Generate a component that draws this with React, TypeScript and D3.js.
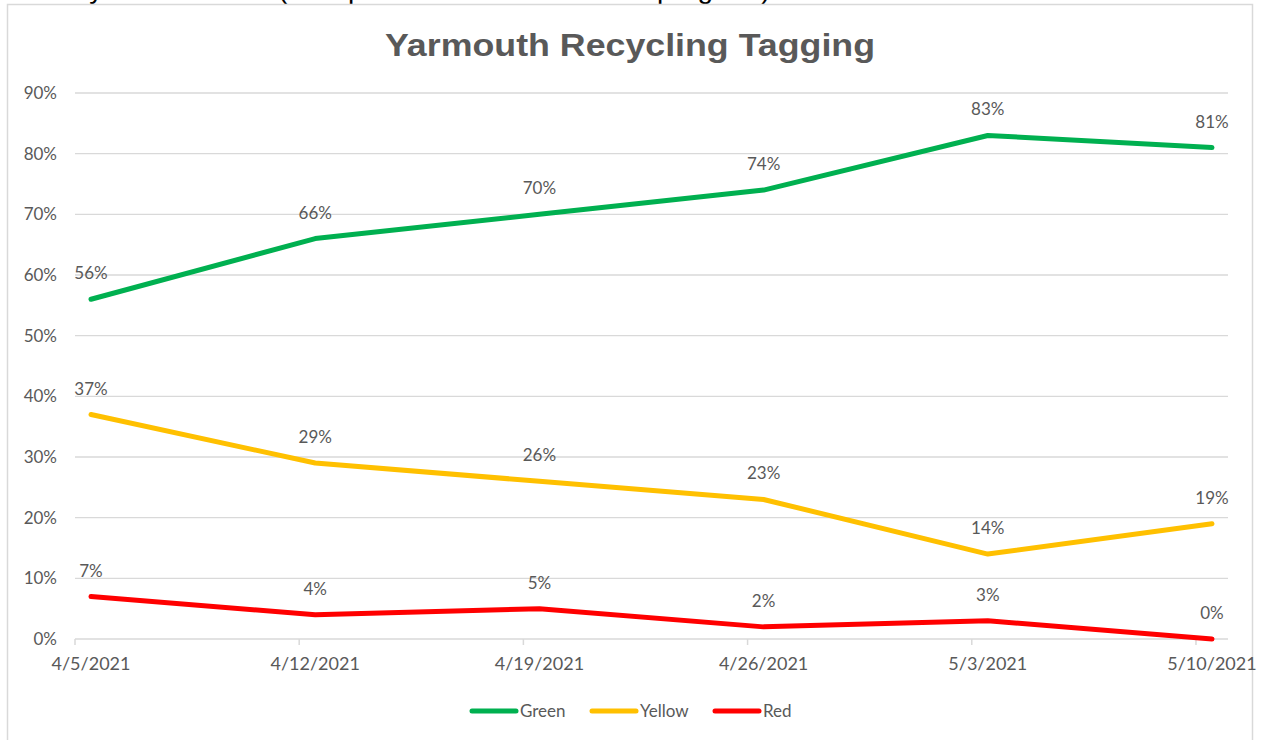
import React from "react";
import * as d3 from "d3";

const width = 1262;
const height = 740;
const margin = { top: 93, right: 34, bottom: 101, left: 75 };

// days since 4/5/2021, one point per week
const dates = ["4/5/2021", "4/12/2021", "4/19/2021", "4/26/2021", "5/3/2021", "5/10/2021"];
const dayOffsets = [0, 7, 14, 21, 28, 35];
const green = [0.56, 0.66, 0.7, 0.74, 0.83, 0.81];
const yellow = [0.37, 0.29, 0.26, 0.23, 0.14, 0.19];
const red = [0.07, 0.04, 0.05, 0.02, 0.03, 0.0];
const yTicks = [0, 0.1, 0.2, 0.3, 0.4, 0.5, 0.6, 0.7, 0.8, 0.9];

const series = [
  { name: "Green", values: green, color: "#00B050" },
  { name: "Yellow", values: yellow, color: "#FFC000" },
  { name: "Red", values: red, color: "#FF0000" },
];

const labelFont = "Lato, 'Open Sans', sans-serif";
const textColor = "#595959";

export default function App() {
  const xScale = d3
    .scaleLinear()
    .domain([0, 36])
    .range([margin.left, width - margin.right]);
  const yScale = d3
    .scaleLinear()
    .domain([0, 0.9])
    .range([height - margin.bottom, margin.top]);

  const line = d3
    .line<number>()
    .x((d, i) => xScale(dayOffsets[i] + 0.5))
    .y((d) => yScale(d));

  const pct = d3.format(".0%");
  const x0 = xScale.range()[0];
  const x1 = xScale.range()[1];
  const yBase = yScale(0);

  // legend layout
  const legend = [
    { x: 470, ...series[0] },
    { x: 590, ...series[1] },
    { x: 713, ...series[2] },
  ];

  return (
    <svg
      width={width}
      height={height}
      style={{ position: "absolute", left: 0, top: 0, background: "#fff" }}
    >
      {/* text of the page above the chart, cut off as in the screenshot */}
      <text y={-2} fontFamily="'Liberation Sans', Arial, sans-serif" fontSize={28} fill="#000">
        <tspan x={12}>Weekly results</tspan>
        <tspan x={278}>(total per week in the</tspan>
        <tspan x={657}>program)</tspan>
      </text>

      <rect x={7.5} y={4.5} width={1245} height={800} fill="#fff" stroke="#D9D9D9" strokeWidth={1.5} />

      <text
        x={630}
        y={56}
        textAnchor="middle"
        fontFamily="'Liberation Sans', Arial, sans-serif"
        fontWeight="bold"
        fontSize={31}
        fill={textColor}
        textLength={490}
        lengthAdjust="spacingAndGlyphs"
      >
        Yarmouth Recycling Tagging
      </text>

      {/* gridlines */}
      {yTicks.slice(1).map((t) => (
        <line key={t} x1={x0} x2={x1} y1={yScale(t)} y2={yScale(t)} stroke="#D9D9D9" strokeWidth={1.3} />
      ))}
      <line x1={x0} x2={x1} y1={yBase} y2={yBase} stroke="#D9D9D9" strokeWidth={1.5} />
      {dayOffsets.map((d) => (
        <line key={d} x1={xScale(d)} x2={xScale(d)} y1={yBase} y2={yBase + 6} stroke="#D9D9D9" strokeWidth={1.5} />
      ))}

      {/* y axis labels */}
      {yTicks.map((t) => (
        <text
          key={t}
          x={57}
          y={yScale(t)}
          dy="0.35em"
          textAnchor="end"
          fontFamily={labelFont}
          fontSize={17}
          fill={textColor}
        >
          {pct(t)}
        </text>
      ))}

      {/* x axis labels */}
      {dates.map((d, i) => (
        <text
          key={d}
          x={xScale(dayOffsets[i] + 0.5)}
          y={yBase + 31}
          textAnchor="middle"
          fontFamily={labelFont}
          fontSize={18}
          fill={textColor}
        >
          {d}
        </text>
      ))}

      {/* lines */}
      {series.map((s) => (
        <path
          key={s.name}
          d={line(s.values) || ""}
          fill="none"
          stroke={s.color}
          strokeWidth={5}
          strokeLinecap="round"
          strokeLinejoin="round"
        />
      ))}

      {/* data labels */}
      {series.map((s) =>
        s.values.map((v, i) => (
          <text
            key={s.name + i}
            x={xScale(dayOffsets[i] + 0.5)}
            y={yScale(v) - 20}
            textAnchor="middle"
            fontFamily={labelFont}
            fontSize={17}
            fill={textColor}
          >
            {pct(v)}
          </text>
        ))
      )}

      {/* legend */}
      {legend.map((l) => (
        <g key={l.name}>
          <line x1={l.x + 2} x2={l.x + 46} y1={711} y2={711} stroke={l.color} strokeWidth={5} strokeLinecap="round" />
          <text x={l.x + 50} y={711} dy="0.35em" fontFamily={labelFont} fontSize={17} fill={textColor}>
            {l.name}
          </text>
        </g>
      ))}
    </svg>
  );
}
